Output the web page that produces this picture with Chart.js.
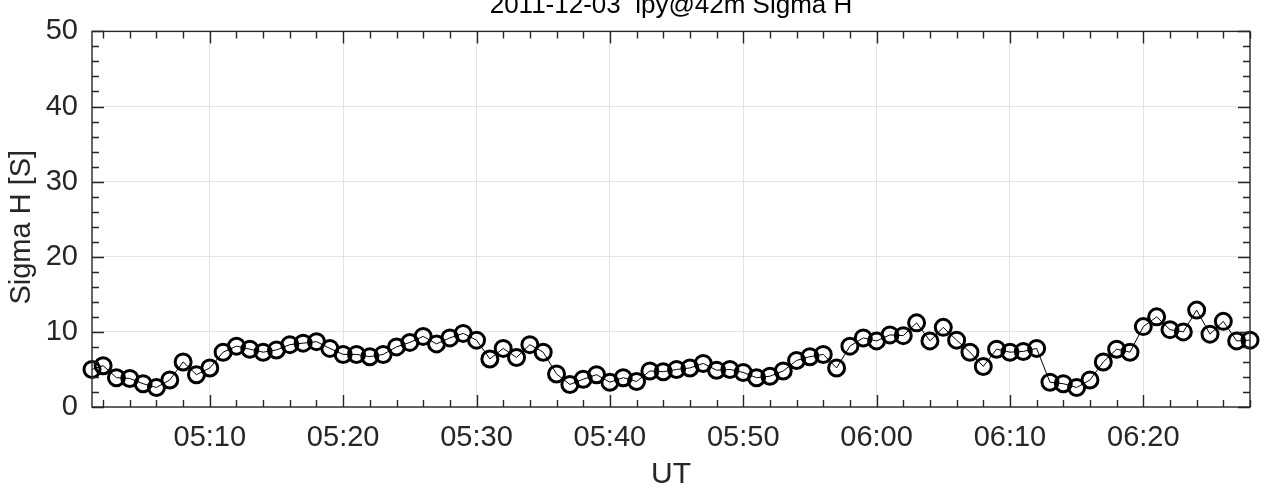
<!DOCTYPE html>
<html>
<head>
<meta charset="utf-8">
<script src="https://cdn.jsdelivr.net/npm/chart.js@4/dist/chart.umd.min.js"></script>
<style>
  body { margin: 0; background: #ffffff; overflow: hidden; }
  canvas { display: block; }
</style>
</head>
<body>
<canvas id="sigma-chart" width="1261" height="493"></canvas>
<script>
// chart data
const chartTitle = '2011-12-03  ipy@42m Sigma H';
const xAxisLabel = 'UT';
const yAxisLabel = 'Sigma H [S]  ';

const times = [
  '05:01:10', '05:02:00', '05:03:00', '05:04:00', '05:05:00', '05:06:00', '05:07:00', '05:08:00', '05:09:00', '05:10:00',
  '05:11:00', '05:12:00', '05:13:00', '05:14:00', '05:15:00', '05:16:00', '05:17:00', '05:18:00', '05:19:00', '05:20:00',
  '05:21:00', '05:22:00', '05:23:00', '05:24:00', '05:25:00', '05:26:00', '05:27:00', '05:28:00', '05:29:00', '05:30:00',
  '05:31:00', '05:32:00', '05:33:00', '05:34:00', '05:35:00', '05:36:00', '05:37:00', '05:38:00', '05:39:00', '05:40:00',
  '05:41:00', '05:42:00', '05:43:00', '05:44:00', '05:45:00', '05:46:00', '05:47:00', '05:48:00', '05:49:00', '05:50:00',
  '05:51:00', '05:52:00', '05:53:00', '05:54:00', '05:55:00', '05:56:00', '05:57:00', '05:58:00', '05:59:00', '06:00:00',
  '06:01:00', '06:02:00', '06:03:00', '06:04:00', '06:05:00', '06:06:00', '06:07:00', '06:08:00', '06:09:00', '06:10:00',
  '06:11:00', '06:12:00', '06:13:00', '06:14:00', '06:15:00', '06:16:00', '06:17:00', '06:18:00', '06:19:00', '06:20:00',
  '06:21:00', '06:22:00', '06:23:00', '06:24:00', '06:25:00', '06:26:00', '06:27:00', '06:28:00'
];

const sigmaH = [
  5.0, 5.5, 3.9, 3.8, 3.1, 2.6, 3.6, 6.0, 4.3, 5.2,
  7.3, 8.1, 7.7, 7.3, 7.6, 8.3, 8.5, 8.7, 7.8, 7.0,
  7.0, 6.7, 7.0, 8.0, 8.6, 9.4, 8.4, 9.2, 9.8, 8.9,
  6.4, 7.8, 6.6, 8.3, 7.3, 4.4, 3.0, 3.7, 4.3, 3.3,
  3.9, 3.4, 4.8, 4.7, 5.0, 5.2, 5.8, 4.9, 5.0, 4.6,
  3.9, 4.1, 4.8, 6.2, 6.7, 7.0, 5.2, 8.1, 9.2, 8.8,
  9.6, 9.5, 11.2, 8.8, 10.6, 8.9, 7.3, 5.4, 7.7, 7.3,
  7.4, 7.8, 3.3, 3.1, 2.6, 3.6, 6.0, 7.7, 7.3, 10.7,
  12.0, 10.3, 10.0, 12.9, 9.7, 11.4, 8.8, 8.9
];

const xTickLabels = ['05:10', '05:20', '05:30', '05:40', '05:50', '06:00', '06:10', '06:20'];
const yTicks = [0, 10, 20, 30, 40, 50];
const xRange = ['05:01:10', '06:28:00'];

// "hh:mm[:ss]" -> minutes after midnight
function toMin(s)
{
  let p = s.split(':').map(Number);
  return p[0] * 60 + p[1] + (p[2] || 0) / 60;
}

function fmtMin(v)
{
  let h = Math.floor(v / 60);
  let m = Math.round(v - h * 60);
  return String(h).padStart(2, '0') + ':' + String(m).padStart(2, '0');
}

const points = times.map((t, i) => ({ x: toMin(t), y: sigmaH[i] }));
const xMajor = xTickLabels.map(toMin);

const axisColor = '#262626';
const gridColor = '#e3e3e3';
const fontName = '"Liberation Sans", Arial, Helvetica, sans-serif';

// matlab-like box: frame, inward ticks on all sides and the title
const boxPlugin = {
  id: 'matlabBox',
  afterDraw(chart)
  {
    const { ctx, chartArea: a, scales } = chart;
    const xs = scales.x, ys = scales.y;
    ctx.save();
    ctx.strokeStyle = axisColor;
    ctx.lineWidth = 1.4;
    ctx.beginPath();

    // x ticks every 2 min, long ones on the labelled ticks
    let x0 = Math.ceil(xs.min / 2) * 2;
    for (let v = x0; v <= xs.max + 1e-6; v += 2)
    {
      let len = (Math.round(v) % 10 === 0) ? 12 : 7;
      let px = Math.round(xs.getPixelForValue(v)) + 0.5;
      ctx.moveTo(px, a.bottom); ctx.lineTo(px, a.bottom - len);
      ctx.moveTo(px, a.top); ctx.lineTo(px, a.top + len);
    }
    // y ticks every 2
    for (let v = ys.min; v <= ys.max; v += 2)
    {
      let len = (v % 10 === 0) ? 12 : 7;
      let py = Math.round(ys.getPixelForValue(v)) + 0.5;
      ctx.moveTo(a.left, py); ctx.lineTo(a.left + len, py);
      ctx.moveTo(a.right, py); ctx.lineTo(a.right - len, py);
    }
    ctx.stroke();
    ctx.strokeRect(a.left, a.top, a.right - a.left, a.bottom - a.top);

    ctx.fillStyle = '#000000';
    ctx.font = '26px ' + fontName;
    ctx.textAlign = 'center';
    ctx.textBaseline = 'alphabetic';
    ctx.fillText(chartTitle, (a.left + a.right) / 2, 13);
    ctx.restore();
  }
};

function drawIt()
{
  let ctx = document.getElementById('sigma-chart').getContext('2d');
  new Chart(ctx,
  {
    type: 'line',
    data:
    {
      datasets: [
      {
        label: 'Sigma H',
        data: points,
        borderColor: '#000000',
        borderWidth: 1,
        backgroundColor: 'rgba(0,0,0,0)',
        pointRadius: 8,
        pointBorderWidth: 3,
        pointBorderColor: '#000000',
        pointBackgroundColor: 'rgba(0,0,0,0)',
        pointHoverRadius: 8,
        fill: false,
        tension: 0,
        clip: false,
      }, ],
    },
    options:
    {
      responsive: false,
      animation: false,
      devicePixelRatio: 1,
      layout: { padding: { left: 0, right: 11, top: 23, bottom: 0 } },
      plugins:
      {
        legend: { display: false },
        title: { display: false },
        tooltip: { enabled: false },
      },
      scales:
      {
        x:
        {
          type: 'linear',
          min: toMin(xRange[0]),
          max: toMin(xRange[1]),
          afterBuildTicks: (scale) => { scale.ticks = xMajor.map(v => ({ value: v })); },
          afterFit: (scale) => { scale.height = 86; },
          ticks:
          {
            autoSkip: false,
            maxRotation: 0,
            padding: 14,
            color: axisColor,
            font: { family: fontName, size: 29 },
            callback: (v) => fmtMin(v),
          },
          grid: { color: gridColor, lineWidth: 1, drawTicks: false },
          border: { display: false },
          title:
          {
            display: true,
            text: xAxisLabel,
            color: axisColor,
            font: { family: fontName, size: 30 },
            padding: { top: 0, bottom: 0 },
          },
        },
        y:
        {
          type: 'linear',
          min: yTicks[0],
          max: yTicks[yTicks.length - 1],
          afterBuildTicks: (scale) => { scale.ticks = yTicks.map(v => ({ value: v })); },
          afterFit: (scale) => { scale.width = 92; },
          ticks:
          {
            padding: 14,
            color: axisColor,
            font: { family: fontName, size: 29 },
          },
          grid: { color: gridColor, lineWidth: 1, drawTicks: false },
          border: { display: false },
          title:
          {
            display: true,
            text: yAxisLabel,
            color: axisColor,
            font: { family: fontName, size: 29 },
            padding: { top: 5, bottom: 0 },
          },
        },
      },
    },
    plugins: [boxPlugin],
  });
}

window.addEventListener('DOMContentLoaded', (event) =>
{
  drawIt();
});
</script>
</body>
</html>
